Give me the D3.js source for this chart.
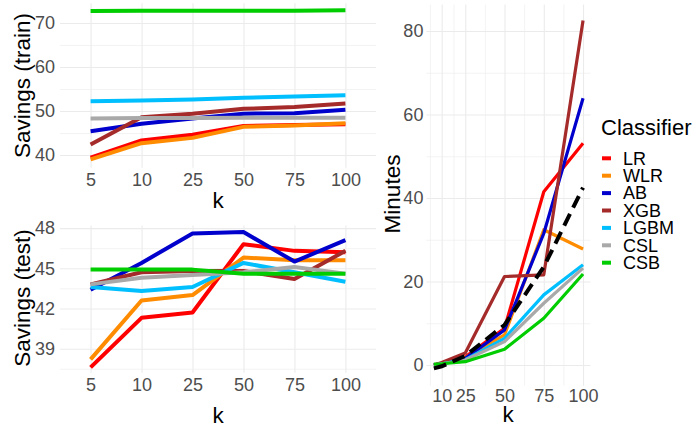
<!DOCTYPE html>
<html>
<head>
<meta charset="utf-8">
<script src="https://cdn.jsdelivr.net/npm/d3@7"></script>
<style>
  body { margin: 0; background: #fff; }
  svg { font-family: 'Liberation Sans', Arial, sans-serif; }
  .grid line { stroke: #ebebeb; }
  .grid path { display: none; }
  .tick-labels path { display: none; }
  .tick-labels text { fill: #4d4d4d; font-size: 18px; }
</style>
</head>
<body>
<svg id="chart" width="696" height="428"></svg>
<script>
const kLabels = ['5', '10', '25', '50', '75', '100'];
const kTime = [5, 10, 25, 50, 75, 100];
const classifiers = ['LR', 'WLR', 'AB', 'XGB', 'LGBM', 'CSL', 'CSB'];
const colors = ['#ff0000', '#ff8c00', '#0000cd', '#a52a2a', '#00bfff', '#a9a9a9', '#00cd00'];

// savings on train set
const trainLR = [39.4, 43.3, 44.6, 46.6, 46.8, 47.0];
const trainWLR = [39.0, 42.7, 43.9, 46.4, 46.7, 47.2];
const trainAB = [45.4, 47.1, 48.3, 49.4, 49.5, 50.3];
const trainXGB = [42.4, 48.6, 49.4, 50.5, 50.9, 51.7];
const trainLGBM = [52.2, 52.4, 52.6, 53.0, 53.3, 53.6];
const trainCSL = [48.3, 48.4, 48.4, 48.5, 48.5, 48.5];
const trainCSB = [72.7, 72.8, 72.8, 72.8, 72.8, 72.9];

// savings on test set
const testLR = [37.6, 41.3, 41.7, 46.8, 46.3, 46.2];
const testWLR = [38.2, 42.6, 43.0, 45.8, 45.6, 45.6];
const testAB = [43.4, 45.4, 47.6, 47.7, 45.5, 47.1];
const testXGB = [43.8, 44.7, 44.8, 44.8, 44.2, 46.3];
const testLGBM = [43.6, 43.3, 43.6, 45.4, 44.7, 44.0];
const testCSL = [43.8, 44.3, 44.5, 44.7, 45.1, 44.6];
const testCSB = [44.9, 44.9, 44.9, 44.6, 44.6, 44.6];

// training time (minutes)
const timeLR = [0.0, 0.4, 2.0, 8.8, 41.5, 53.1];
const timeWLR = [0.0, 0.4, 1.8, 7.2, 32.4, 27.8];
const timeAB = [0.0, 0.4, 1.6, 8.4, 31.5, 63.9];
const timeXGB = [0.0, 0.6, 2.9, 21.2, 21.6, 82.5];
const timeLGBM = [0.0, 0.3, 1.3, 6.4, 16.8, 24.0];
const timeCSL = [0.0, 0.3, 1.2, 5.6, 14.8, 23.2];
const timeCSB = [0.2, 0.3, 0.8, 3.8, 11.2, 21.8];
const timeTrend = [-0.8, -0.3, 2.2, 9.6, 23.5, 42.5];

const trainTicks = [40, 50, 60, 70];
const trainMinor = [45, 55, 65];
const testTicks = [39, 42, 45, 48];
const testMinor = [37.5, 40.5, 43.5, 46.5];
const timeTicks = [0, 20, 40, 60, 80];
const timeMinor = [10, 30, 50, 70];
const timeXTicks = [10, 25, 50, 75, 100];
const timeXMinor = [2.5, 17.5, 37.5, 62.5, 87.5];

const svg = d3.select('#chart');

function gridLines(g, scale, ticks, horizontal, from, to, width) {
  const axis = horizontal ? d3.axisLeft(scale) : d3.axisBottom(scale);
  axis.tickValues(ticks).tickFormat('').tickSize(-(to - from));
  const tr = horizontal ? 'translate(' + from + ',0)' : 'translate(0,' + to + ')';
  const gg = g.append('g').attr('class', 'grid').attr('transform', tr).call(axis);
  gg.selectAll('line').style('stroke-width', width);
}

function yTitle(text, x, y) {
  svg.append('text').attr('transform', 'translate(' + x + ',' + y + ') rotate(-90)')
    .attr('text-anchor', 'middle').style('font-size', '22.5px').style('fill', '#000').text(text);
}

function xTitle(x, y) {
  svg.append('text').attr('x', x).attr('y', y).attr('text-anchor', 'middle')
    .style('font-size', '22.5px').style('fill', '#000').text('k');
}

function discretePanel(series, box, yDomain, ticks, minor) {
  const x = d3.scalePoint().domain(kLabels).range([box.left, box.right]).padding(0.6);
  const y = d3.scaleLinear().domain(yDomain).range([box.bottom, box.top]);
  const g = svg.append('g');
  gridLines(g, y, minor, true, box.left, box.right, 0.6);
  gridLines(g, y, ticks, true, box.left, box.right, 1.1);
  gridLines(g, x, kLabels, false, box.top, box.bottom, 1.1);
  g.append('g').attr('class', 'tick-labels').attr('transform', 'translate(' + box.left + ',0)')
    .call(d3.axisLeft(y).tickValues(ticks).tickSize(0).tickPadding(5));
  g.append('g').attr('class', 'tick-labels').attr('transform', 'translate(0,' + box.bottom + ')')
    .call(d3.axisBottom(x).tickSize(0).tickPadding(5));
  const line = d3.line().x((d, i) => x(kLabels[i])).y(d => y(d));
  series.forEach((s, i) => {
    g.append('path').attr('d', line(s)).style('fill', 'none').style('stroke', colors[i])
      .style('stroke-width', 4).style('stroke-linejoin', 'round');
  });
}

discretePanel([trainLR, trainWLR, trainAB, trainXGB, trainLGBM, trainCSL, trainCSB],
  {left: 60, right: 376, top: 3.2, bottom: 167.8}, [37.1, 74.5], trainTicks, trainMinor);
discretePanel([testLR, testWLR, testAB, testXGB, testLGBM, testCSL, testCSB],
  {left: 60, right: 376, top: 225.4, bottom: 372.8}, [37.2, 48.2], testTicks, testMinor);

yTitle('Savings (train)', 29.5, 85.5);
yTitle('Savings (test)', 30, 298);
xTitle(218, 208);
xTitle(218, 423);

// right panel: minutes
const box = {left: 426.4, right: 590.5, top: 4.5, bottom: 385.7};
const xt = d3.scaleLinear().domain([0.25, 104.75]).range([box.left, box.right]);
const yt = d3.scaleLinear().domain([-4.95, 86.35]).range([box.bottom, box.top]);
const gt = svg.append('g');
gridLines(gt, yt, timeMinor, true, box.left, box.right, 0.6);
gridLines(gt, xt, timeXMinor, false, box.top, box.bottom, 0.6);
gridLines(gt, yt, timeTicks, true, box.left, box.right, 1.1);
gridLines(gt, xt, timeXTicks, false, box.top, box.bottom, 1.1);
gt.append('g').attr('class', 'tick-labels').attr('transform', 'translate(' + box.left + ',0)')
  .call(d3.axisLeft(yt).tickValues(timeTicks).tickSize(0).tickPadding(3));
gt.append('g').attr('class', 'tick-labels').attr('transform', 'translate(0,' + box.bottom + ')')
  .call(d3.axisBottom(xt).tickValues(timeXTicks).tickSize(0).tickPadding(4));
const lineT = d3.line().x((d, i) => xt(kTime[i])).y(d => yt(d));
[timeLR, timeWLR, timeAB, timeXGB, timeLGBM, timeCSL, timeCSB].forEach((s, i) => {
  gt.append('path').attr('d', lineT(s)).style('fill', 'none').style('stroke', colors[i])
    .style('stroke-width', 3.2).style('stroke-linejoin', 'round');
});
gt.append('path').attr('d', lineT(timeTrend)).style('fill', 'none').style('stroke', '#000')
  .style('stroke-width', 4).style('stroke-dasharray', '13,7');

yTitle('Minutes', 400, 194);
xTitle(508, 421.5);

// legend
const legend = svg.append('g');
legend.append('text').attr('x', 601).attr('y', 135).style('font-size', '22px').text('Classifier');
classifiers.forEach((c, i) => {
  const cy = 158.3 + i * 17.4;
  legend.append('line').attr('x1', 602).attr('x2', 611).attr('y1', cy).attr('y2', cy)
    .style('stroke', colors[i]).style('stroke-width', 4);
  legend.append('text').attr('x', 623).attr('y', cy).attr('dy', '0.35em')
    .style('font-size', '18px').style('fill', '#000').text(c);
});
</script>
</body>
</html>
